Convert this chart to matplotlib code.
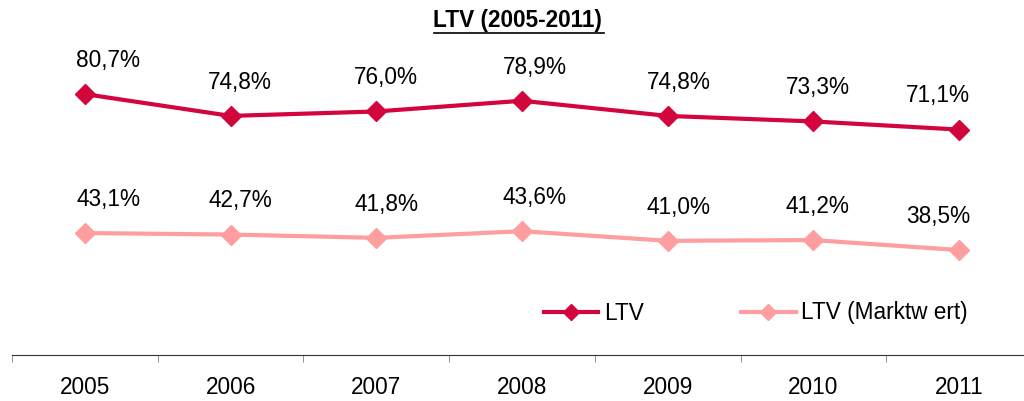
import matplotlib.pyplot as plt

plt.rcParams['font.family'] = ['Liberation Sans', 'DejaVu Sans']

years = ['2005', '2006', '2007', '2008', '2009', '2010', '2011']
ltv = [80.7, 74.8, 76.0, 78.9, 74.8, 73.3, 71.1]
ltv_markt = [43.1, 42.7, 41.8, 43.6, 41.0, 41.2, 38.5]

red = '#D2063D'
pink = '#FF9E9E'

fig = plt.figure(figsize=(10.24, 4.01), dpi=100)
# axes spans a bit beyond the right edge like the original
ax = fig.add_axes([12 / 1024, 46 / 401, 1020 / 1024, 296 / 401])

x = list(range(len(years)))
ax.plot(x, ltv, color=red, lw=3, marker='D', ms=10, label='LTV')
ax.plot(x, ltv_markt, color=pink, lw=3, marker='D', ms=10,
        label='LTV (Marktw ert)')

# label offsets in points (horizontal shift)
dx = [17, 7, 7, 9, 8, 3, -15]
for i in x:
    ax.annotate(f'{ltv[i]:.1f}%'.replace('.', ','), (i, ltv[i]),
                xytext=(dx[i], 16), textcoords='offset points',
                ha='center', va='bottom', fontsize=16.3)
    ax.annotate(f'{ltv_markt[i]:.1f}%'.replace('.', ','), (i, ltv_markt[i]),
                xytext=(dx[i], 16), textcoords='offset points',
                ha='center', va='bottom', fontsize=16.3)

ax.set_xlim(-0.5, 6.5)
ax.set_ylim(10.1, 90.2)
ax.set_xticks(x)
ax.set_xticklabels(years, fontsize=16.3)
ax.set_xticks([i - 0.5 for i in range(8)], minor=True)
ax.tick_params(axis='x', which='major', length=0, pad=15)
ax.tick_params(axis='x', which='minor', length=5, color='#808080')
ax.set_yticks([])
for s in ['top', 'right', 'left']:
    ax.spines[s].set_visible(False)
ax.spines['bottom'].set_color('#333333')

fig.text(0.505, 0.95, 'LTV (2005-2011)', ha='center', va='center',
         fontsize=16.3, fontweight='bold')
fig.add_artist(plt.Line2D([434 / 1024, 604 / 1024], [1 - 33 / 401] * 2,
                          color='black', lw=1.2))

ax.legend(loc='center', bbox_to_anchor=(756 / 1024, 1 - 313 / 401),
          bbox_transform=fig.transFigure, ncol=2, frameon=False,
          fontsize=16.3, handlelength=2.4, columnspacing=4.3,
          handletextpad=0.25, markerscale=0.8)

fig.savefig('out.png', dpi=100)
